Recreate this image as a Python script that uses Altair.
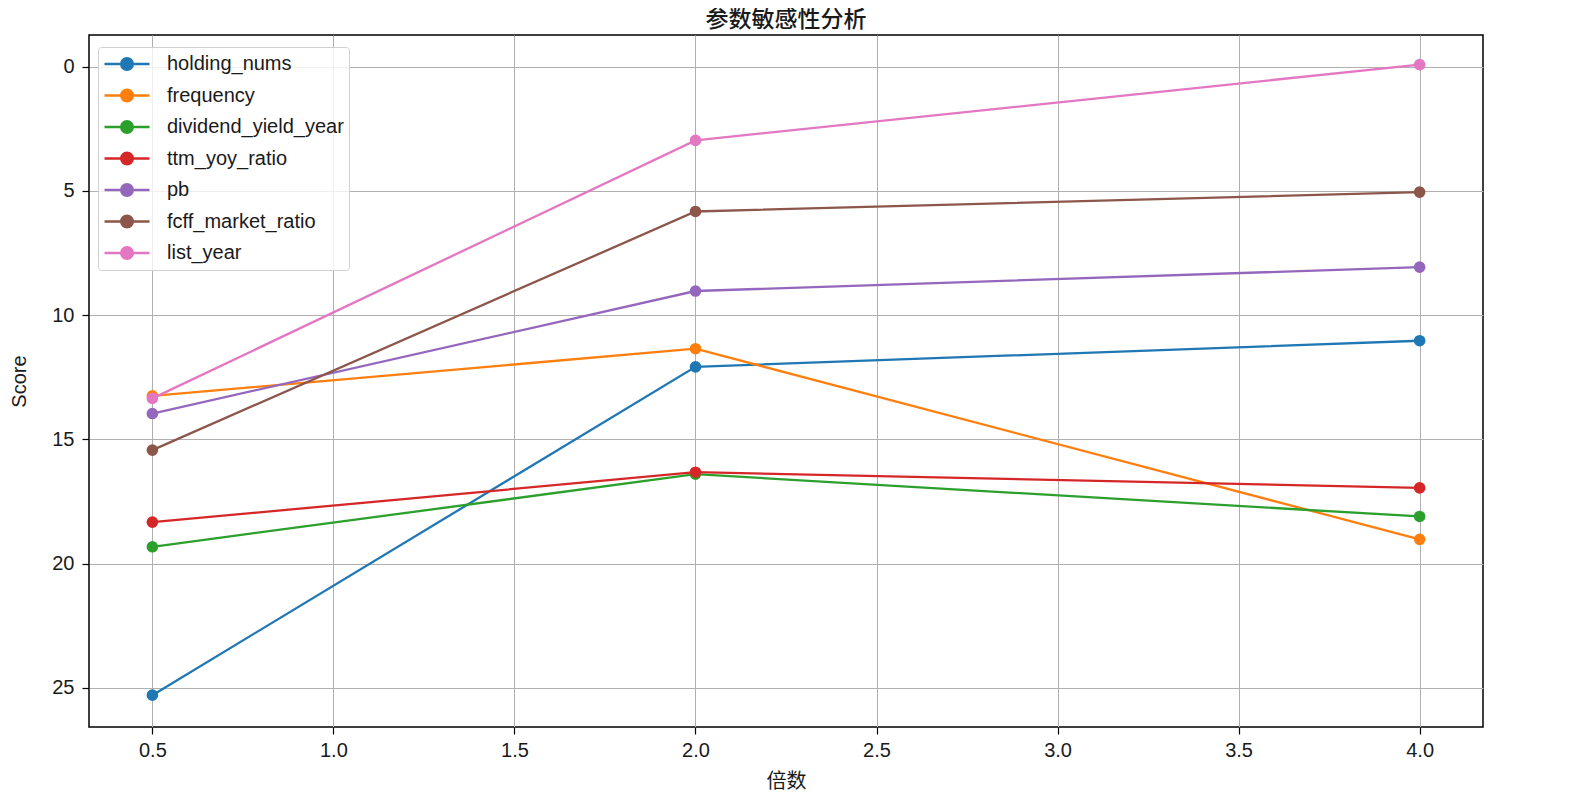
import altair as alt
import pandas as pd

multipliers = [0.5, 2.0, 4.0]
series_names = ["holding_nums", "frequency", "dividend_yield_year", "ttm_yoy_ratio",
                "pb", "fcff_market_ratio", "list_year"]
holding_nums = [25.29, 12.08, 11.03]
frequency = [13.25, 11.35, 19.02]
dividend_yield_year = [19.32, 16.40, 18.10]
ttm_yoy_ratio = [18.33, 16.32, 16.95]
pb = [13.96, 9.03, 8.07]
fcff_market_ratio = [15.43, 5.83, 5.05]
list_year = [13.35, 2.97, -0.08]
colors = ["#1f77b4", "#ff7f0e", "#2ca02c", "#d62728", "#9467bd", "#8c564b", "#e377c2"]
x_ticks = [0.5, 1.0, 1.5, 2.0, 2.5, 3.0, 3.5, 4.0]
y_ticks = [0, 5, 10, 15, 20, 25]

all_values = [holding_nums, frequency, dividend_yield_year, ttm_yoy_ratio, pb,
              fcff_market_ratio, list_year]
rows = []
for name, vals in zip(series_names, all_values):
    for m, v in zip(multipliers, vals):
        rows.append({"series": name, "multiplier": m, "score": v})
df = pd.DataFrame(rows)

FONT = "Liberation Sans"
CJK = "Noto Sans CJK SC"

sym = "M-1,0L1,0M-0.26,0A0.26,0.26,0,1,1,0.26,0A0.26,0.26,0,1,1,-0.26,0Z"

color = alt.Color(
    "series:N",
    sort=series_names,
    scale=alt.Scale(domain=series_names, range=colors),
    legend=alt.Legend(
        title=None, orient="none", legendX=9, legendY=12,
        symbolType=sym, symbolSize=2025, symbolStrokeWidth=2.3,
        labelFont=FONT, labelFontSize=20, labelColor="#1a1a1a", labelLimit=400,
        fillColor="rgba(255,255,255,0.8)", strokeColor="#d0d0d0",
        padding=5, cornerRadius=3, rowPadding=7.5, clipHeight=24, labelOffset=16,
    ),
)

x = alt.X("multiplier:Q",
          scale=alt.Scale(domain=[0.325, 4.175], nice=False, zero=False),
          axis=alt.Axis(title="倍数", values=x_ticks, format=".1f", grid=True,
                        titleFont=CJK, titleFontSize=20, titleFontWeight="normal",
                        titleColor="#1a1a1a", titleY=54, titleBaseline="middle",
                        labelPadding=6))
y = alt.Y("score:Q",
          scale=alt.Scale(domain=[-1.27, 26.57], nice=False, zero=False, reverse=True),
          axis=alt.Axis(title="Score", values=y_ticks, grid=True,
                        titleFont=FONT, titleFontSize=20, titleFontWeight="normal",
                        titleColor="#1a1a1a", titleX=-70, titleY=346,
                        titleAnchor="middle", titleBaseline="middle",
                        labelPadding=8))

base = alt.Chart(df)
lines = base.mark_line(strokeWidth=2.3).encode(x=x, y=y, color=color, detail="series:N")
points = base.mark_point(filled=True, opacity=1, size=135, shape="circle").encode(
    x=x, y=y, color=color)

chart = alt.layer(lines, points).properties(
    width=1394, height=692,
    title=alt.TitleParams("参数敏感性分析", font=CJK, fontSize=23, fontWeight=500,
                          color="#1a1a1a", offset=3),
    autosize=alt.AutoSizeParams(type="none"),
    padding={"left": 81, "top": 27, "right": 20, "bottom": 65},
).configure_view(stroke="#000000", strokeWidth=1.5).configure_axis(
    labelFont=FONT, labelFontSize=20, labelColor="#1a1a1a",
    tickColor="#000000", tickSize=7, tickWidth=1.2,
    gridColor="#b0b0b0", gridWidth=1, domain=False,
)

chart.save("out.html", embed_options={"renderer": "svg", "actions": False})
